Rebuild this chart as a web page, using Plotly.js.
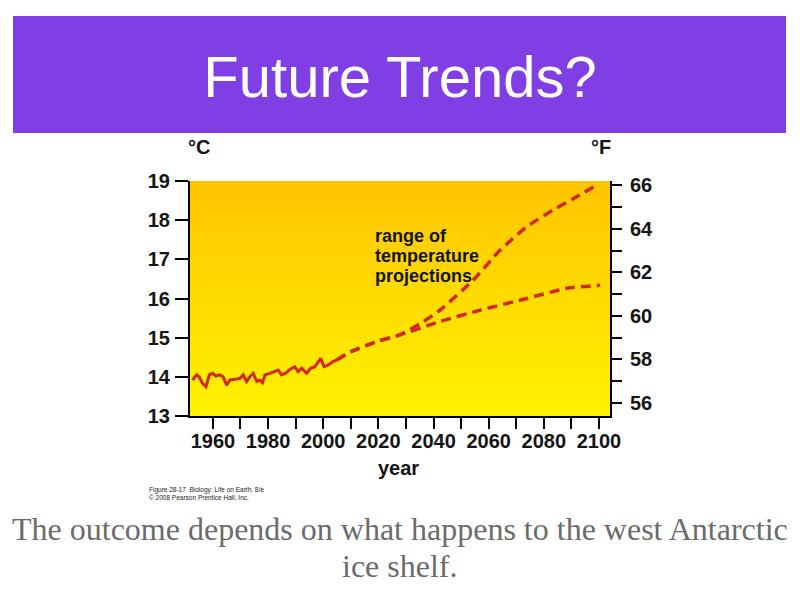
<!DOCTYPE html>
<html>
<head>
<meta charset="utf-8">
<script src="https://cdn.plot.ly/plotly-3.0.1.min.js"></script>
<style>
  html, body { margin: 0; padding: 0; background: #ffffff; }
  #chart { width: 800px; height: 600px; }
</style>
</head>
<body>
<div id="chart"></div>
<script>
// ---- Data ----
const histYears = [1952.6, 1954.1, 1955.0, 1956.3, 1957.5, 1958.7, 1959.9, 1961.1, 1962.5, 1963.7,
                   1965.0, 1966.2, 1968.0, 1969.8, 1971.0, 1972.2, 1973.4, 1974.6, 1975.9, 1977.0,
                   1978.0, 1978.9, 1980.7, 1982.5, 1983.7, 1984.9, 1986.5, 1987.9, 1989.7, 1990.9,
                   1992.2, 1994.0, 1995.4, 1997.0, 1998.2, 1999.1, 2000.3, 2001.8, 2003.6, 2004.9];
const histTemps = [13.92, 14.05, 14.00, 13.83, 13.75, 14.05, 14.09, 14.02, 14.05, 14.00,
                   13.79, 13.92, 13.94, 13.96, 14.05, 13.88, 14.00, 14.09, 13.88, 13.92,
                   13.85, 14.05, 14.09, 14.13, 14.17, 14.05, 14.10, 14.19, 14.26, 14.13,
                   14.22, 14.09, 14.22, 14.26, 14.39, 14.47, 14.26, 14.30, 14.39, 14.43];

const highYears = [2004.9, 2009.7, 2019.8, 2027.8, 2035.0, 2042.3, 2054.4, 2064.1, 2073.8, 2083.4, 2090.7, 2099.8];
const highTemps = [14.43, 14.63, 14.91, 15.07, 15.35, 15.70, 16.47, 17.23, 17.83, 18.26, 18.55, 18.92];

const lowYears  = [2004.9, 2009.7, 2019.8, 2027.8, 2042.3, 2056.8, 2073.8, 2088.3, 2100.4];
const lowTemps  = [14.43, 14.63, 14.91, 15.07, 15.41, 15.70, 16.00, 16.26, 16.34];

const celsiusRange = [13, 19];
const celsiusTicks = [13, 14, 15, 16, 17, 18, 19];
const fahrenheitTicks = [56, 58, 60, 62, 64, 66];
const yearTicks = [1960, 1980, 2000, 2020, 2040, 2060, 2080, 2100];
const yearRange = [1951.7, 2104];

const slideTitle = "Future Trends?";
const noteLines = ["range of", "temperature", "projections"];
const captionLines = ["The outcome depends on what happens to the west Antarctic", "ice shelf."];
const creditText = "Figure 28-17  Biology: Life on Earth, 8/e<br>\u00a9 2008 Pearson Prentice Hall, Inc.";

// ---- Layout helpers (pixel -> paper) ----
const W = 800, H = 600;
const L = 190, R = 610, T = 181, B = 416;
const px = x => (x - L) / (R - L);
const py = y => (B - y) / (B - T);
const c2f = c => c * 1.8 + 32;

const lineRed = '#d12a1c';
const ink = '#141414';
const boldFont = { family: 'Liberation Sans, Arial, sans-serif', size: 20, color: ink, weight: 700 };

const gradSvg = '<svg xmlns="http://www.w3.org/2000/svg" width="100" height="100" preserveAspectRatio="none">' +
  '<defs><linearGradient id="g" x1="0" y1="0" x2="0" y2="1">' +
  '<stop offset="0" stop-color="#ffc400"/><stop offset="0.5" stop-color="#ffdc00"/>' +
  '<stop offset="1" stop-color="#fff200"/></linearGradient></defs>' +
  '<rect width="100" height="100" fill="url(#g)"/></svg>';

const traces = [
  { x: histYears, y: histTemps, type: 'scatter', mode: 'lines',
    line: { color: lineRed, width: 3 }, hoverinfo: 'x+y', showlegend: false },
  { x: highYears, y: highTemps, type: 'scatter', mode: 'lines',
    line: { color: lineRed, width: 3.5, dash: '10px,6px', shape: 'spline', smoothing: 0.6 },
    showlegend: false },
  { x: lowYears, y: lowTemps, type: 'scatter', mode: 'lines',
    line: { color: lineRed, width: 3.5, dash: '10px,6px', shape: 'spline', smoothing: 0.6 },
    showlegend: false },
  // invisible helper so the °F axis is drawn
  { x: [yearRange[0]], y: [c2f(celsiusRange[0])], yaxis: 'y2', type: 'scatter', mode: 'markers',
    marker: { opacity: 0 }, hoverinfo: 'skip', showlegend: false }
];

const annotations = [
  { text: '\u00b0C', xref: 'paper', yref: 'paper', x: px(199), y: py(147),
    xanchor: 'center', yanchor: 'middle', showarrow: false, font: boldFont },
  { text: '\u00b0F', xref: 'paper', yref: 'paper', x: px(601), y: py(147),
    xanchor: 'center', yanchor: 'middle', showarrow: false, font: boldFont },
  { text: 'year', xref: 'paper', yref: 'paper', x: px(398), y: py(468),
    xanchor: 'center', yanchor: 'middle', showarrow: false, font: boldFont },
  { text: creditText, xref: 'paper', yref: 'paper', x: px(147), y: py(493),
    xanchor: 'left', yanchor: 'middle', align: 'left', showarrow: false,
    font: { family: 'Liberation Sans, Arial, sans-serif', size: 6.5, color: '#222' } }
];
noteLines.forEach((t, i) => annotations.push({
  text: t, xref: 'paper', yref: 'paper', x: px(373), y: py(236 + 20 * i),
  xanchor: 'left', yanchor: 'middle', align: 'left', showarrow: false,
  font: { family: 'Liberation Sans, Arial, sans-serif', size: 18, color: ink, weight: 700 }
}));
captionLines.forEach((t, i) => annotations.push({
  text: t, xref: 'paper', yref: 'paper', x: 0.5, y: py(529 + 37 * i),
  xanchor: 'center', yanchor: 'middle', align: 'center', showarrow: false,
  font: { family: 'Liberation Serif, Times New Roman, serif', size: 32, color: '#6b6b6b' }
}));

const layout = {
  width: W, height: H,
  paper_bgcolor: '#ffffff',
  plot_bgcolor: 'rgba(0,0,0,0)',
  margin: { l: L, r: W - R, t: T, b: H - B },
  showlegend: false,
  title: {
    text: slideTitle,
    x: 0.5, xref: 'paper', xanchor: 'center',
    y: 1 - 77 / H, yref: 'container', yanchor: 'middle',
    font: { family: 'Liberation Sans, Arial, sans-serif', size: 58, color: '#ffffff' }
  },
  xaxis: {
    range: yearRange, tickvals: yearTicks, ticktext: yearTicks.map(String),
    showline: true, linecolor: '#000', linewidth: 2,
    ticks: 'outside', ticklen: 11, tickwidth: 2, tickcolor: '#000',
    minor: { dtick: 10, tick0: 1950, ticks: 'outside', ticklen: 11, tickwidth: 2, tickcolor: '#000', showgrid: false },
    showgrid: false, zeroline: false, fixedrange: true,
    tickfont: boldFont, ticklabelstandoff: -5
  },
  yaxis: {
    range: celsiusRange, tickvals: celsiusTicks, ticktext: celsiusTicks.map(String),
    showline: true, linecolor: '#000', linewidth: 2,
    ticks: 'outside', ticklen: 13, tickwidth: 2, tickcolor: '#000',
    showgrid: false, zeroline: false, fixedrange: true,
    tickfont: boldFont, ticklabelstandoff: 1
  },
  yaxis2: {
    overlaying: 'y', side: 'right',
    range: celsiusRange.map(c2f), tickvals: fahrenheitTicks, ticktext: fahrenheitTicks.map(String),
    showline: true, linecolor: '#000', linewidth: 2,
    ticks: 'outside', ticklen: 10, tickwidth: 2, tickcolor: '#000',
    minor: { dtick: 1, tick0: 55, ticks: 'outside', ticklen: 10, tickwidth: 2, tickcolor: '#000', showgrid: false },
    showgrid: false, zeroline: false, fixedrange: true,
    tickfont: boldFont, ticklabelstandoff: 4
  },
  images: [{
    source: 'data:image/svg+xml;charset=utf-8,' + encodeURIComponent(gradSvg),
    xref: 'paper', yref: 'paper', x: 0, y: 1, sizex: 1, sizey: 1,
    xanchor: 'left', yanchor: 'top', sizing: 'stretch', layer: 'below'
  }],
  shapes: [{
    type: 'rect', xref: 'paper', yref: 'paper',
    x0: px(13), x1: px(786), y0: py(133), y1: py(16),
    fillcolor: '#7f3fe5', line: { width: 0 }, layer: 'below'
  }],
  annotations: annotations
};

Plotly.newPlot('chart', traces, layout, { displayModeBar: false, staticPlot: true });
</script>
</body>
</html>
